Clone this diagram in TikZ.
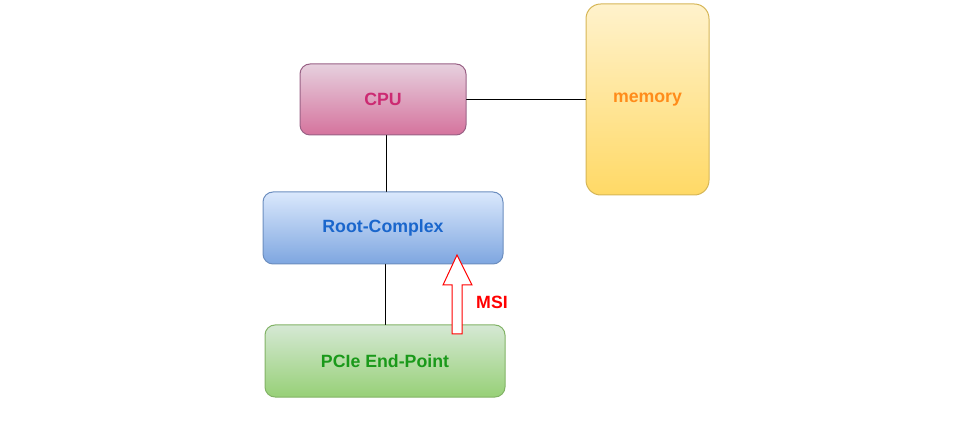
\documentclass[tikz,border=0pt]{standalone}
\usepackage{fontspec}
\setmainfont{Liberation Sans}
\usepackage{tikz}
\usetikzlibrary{calc}
\definecolor{e6d0de}{HTML}{E6D0DE}
\definecolor{d5739d}{HTML}{D5739D}
\definecolor{qq6185}{HTML}{996185}
\definecolor{dae8fc}{HTML}{DAE8FC}
\definecolor{ea6eq}{HTML}{7EA6E0}
\definecolor{ce8ebf}{HTML}{6C8EBF}
\definecolor{d5e8d4}{HTML}{D5E8D4}
\definecolor{qd77}{HTML}{97D077}
\definecolor{bb366}{HTML}{82B366}
\definecolor{fff2cc}{HTML}{FFF2CC}
\definecolor{ffd966}{HTML}{FFD966}
\definecolor{d6b656}{HTML}{D6B656}
\definecolor{cczz77}{HTML}{CC2A72}
\definecolor{qq66cc}{HTML}{1A66CC}
\definecolor{qqqqzz}{HTML}{1A991A}
\definecolor{ff8czz}{HTML}{FF8C1A}
\definecolor{ffqqqq}{HTML}{FF0000}
\tikzstyle{every node}=[font=\fontsize{13.3}{16}\selectfont\bfseries]
\tikzstyle{box}=[draw, rounded corners=7.5pt, line width=0.75pt, inner sep=0pt]
\begin{document}
\begin{tikzpicture}[line cap=round,line join=round,x=0.75pt,y=-0.75pt]
                \useasboundingbox (0,0) rectangle (966,448);
                \node [box, draw=qq6185, top color=e6d0de, bottom color=d5739d, text=cczz77, minimum width=124.5pt, minimum height=53.25pt] (cpu) at (383,99.5) {CPU};
                \node [box, rounded corners=11pt, draw=d6b656, top color=fff2cc, bottom color=ffd966, text=ff8czz, minimum width=92.25pt, minimum height=143.25pt] (mem) at (647.5,99.5) {memory};
                \node [box, draw=ce8ebf, top color=dae8fc, bottom color=ea6eq, text=qq66cc, minimum width=180pt, minimum height=54pt] (rc) at (383,228) {Root-Complex};
                \node [box, draw=bb366, top color=d5e8d4, bottom color=qd77, text=qqqqzz, minimum width=180pt, minimum height=54pt] (ep) at (385,361) {PCIe End-Point};
                \coordinate (cpubus) at ($(cpu.south)+(3,0)$);
                \draw [line width=0.75pt] (cpu.east) -- (mem.west);
                \draw [line width=0.75pt] (cpubus) -- (cpubus |- rc.north);
                \draw [line width=0.75pt] (rc.south -| ep.north) -- (ep.north);
                \draw [line width=0.75pt, color=ffqqqq, fill=white, line join=miter] (452,334) -- (452,285) -- (443,285) -- (457,255) -- (472,285) -- (462,285) -- (462,334) -- cycle;
                \node [text=ffqqqq] (msi) at (492,302) {MSI};
            \end{tikzpicture}
\end{document}
